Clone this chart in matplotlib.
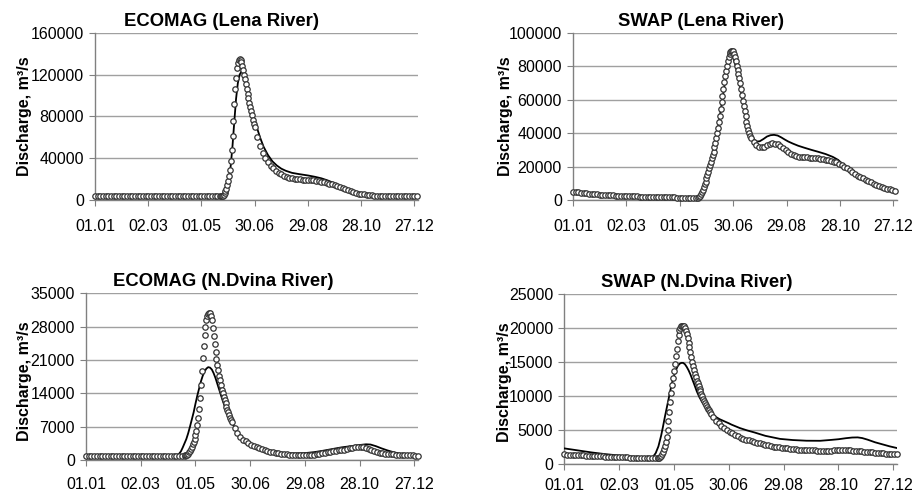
import numpy as np
import matplotlib
matplotlib.use('Agg')
import matplotlib.pyplot as plt

plt.rcParams['font.family'] = 'Liberation Sans'

tick_days = [0, 60, 120, 180, 240, 300, 360]
tick_labels = ['01.01', '02.03', '01.05', '30.06', '29.08', '28.10', '27.12']
ylabel = 'Discharge, m\u00b3/s'

# ---- ECOMAG (Lena River) ----
lena_ecomag_obs_days = np.r_[0:142:3, 142:181, 183:364:3]
lena_ecomag_obs = [
    3500, 3500, 3500, 3500, 3500, 3500, 3500, 3500, 3500, 3500, 3500, 3500,
    3500, 3500, 3500, 3500, 3500, 3500, 3500, 3500, 3500, 3500, 3500, 3500,
    3500, 3500, 3500, 3500, 3500, 3500, 3500, 3500, 3500, 3500, 3500, 3500,
    3500, 3500, 3500, 3500, 3500, 3500, 3500, 3500, 3500, 3500, 3500, 3500,
    3500, 3600, 3900, 5000, 6500, 8500, 11000, 14000, 18000, 23000,
    29000, 37000, 48000, 61000, 76000, 92000, 106000, 117000, 126000, 131500,
    134500, 135500, 134500, 132000, 128500, 124500, 120000, 115500, 111000, 106500,
    102000, 97500, 93000, 89000, 85000, 81000, 77000, 73000, 69500,
    60000, 52000, 45500, 40500, 36500, 33000, 30500, 28000, 26000, 24500,
    23300, 22300, 21500, 20800, 20300, 20000, 19700, 19500, 19300, 19100,
    18900, 18700, 18400, 18000, 17500, 17000, 16400, 15700, 14900, 14000,
    13100, 12100, 11100, 10100, 9200, 8300, 7500, 6800, 6200, 5700,
    5300, 5000, 4700, 4500, 4300, 4100, 4000, 3900, 3800, 3700,
    3700, 3600, 3600, 3600, 3500, 3500, 3500, 3500, 3500, 3500, 3500]
lena_ecomag_sim_days = [0, 143, 145, 147, 149, 151, 153, 155, 157, 159, 161, 163, 165,
                        167, 169, 171, 174, 177, 180, 183, 186, 190, 195, 200, 205,
                        210, 215, 222, 230, 240, 248, 255, 262, 270, 278, 285, 292,
                        300, 308, 318, 330, 345, 364]
lena_ecomag_sim = [3500, 3500, 4500, 7500, 12000, 20000, 33000, 52000, 75000, 97000,
                   112000, 120000, 123000, 121000, 116000, 109000, 98000, 87000, 77000,
                   68000, 60000, 51000, 43000, 37000, 33000, 30000, 28000, 26000, 24800,
                   23500, 22200, 20800, 18800, 16000, 13000, 10500, 8000, 6000, 4900,
                   4200, 3800, 3600, 3500]

# ---- SWAP (Lena River) ----
lena_swap_obs_days = np.r_[0:142:3, 142:201, 203:363:3]
lena_swap_obs = [
    5000, 4800, 4600, 4400, 4200, 4000, 3800, 3650, 3500, 3350,
    3200, 3100, 3000, 2900, 2800, 2700, 2600, 2500, 2450, 2400,
    2300, 2250, 2200, 2150, 2100, 2050, 2000, 1950, 1900, 1850,
    1800, 1750, 1700, 1650, 1600, 1600, 1550, 1500, 1500, 1450,
    1400, 1400, 1350, 1300, 1300, 1250, 1200, 1300,
    1600, 2300, 3300, 4600, 6000, 7600, 9300, 11000, 13000, 15000,
    17000, 19000, 21000, 23000, 25000, 27000, 29000, 31500, 34000, 37000,
    40000, 43000, 46500, 50500, 54500, 58500, 62500, 66500, 70500, 74000,
    77500, 80500, 83000, 85500, 87200, 88500, 89300, 89500, 89000, 87500,
    85500, 83000, 80500, 78000, 75500, 73000, 70000, 66500, 63000, 59500,
    56000, 53000, 50000, 47000, 44500, 42000, 40000, 38500, 37000,
    34500, 32800, 31800, 31500, 32000, 33000, 33800, 34000, 33800, 33300,
    32500, 31300, 30000, 28800, 27800, 27000, 26400, 26000, 25800, 25600,
    25500, 25400, 25200, 25100, 25000, 24800, 24500, 24200, 23900, 23500,
    23000, 22500, 21800, 21000, 20000, 19000, 17800, 16500, 15500, 14600,
    13800, 13000, 12200, 11400, 10600, 9800, 9000, 8400, 7800, 7200,
    6700, 6300, 5900, 5500]
lena_swap_sim_days = [0, 30, 60, 90, 120, 140, 142, 145, 149, 153, 157, 160, 163, 166,
                      169, 172, 174, 176, 177, 178, 180, 183, 186, 189, 192, 195, 198,
                      201, 204, 207, 210, 214, 218, 222, 226, 230, 234, 238, 242, 247,
                      253, 260, 268, 276, 284, 292, 298, 302, 305, 311, 320, 330, 340,
                      350, 358, 364]
lena_swap_sim = [5000, 3200, 2300, 1800, 1400, 1250, 1600, 4500, 10500, 18500, 27000,
                 34000, 43000, 53500, 64000, 75000, 81500, 86000, 87500, 87000, 85500,
                 80000, 73000, 64500, 56000, 48500, 42500, 38500, 36000, 35000, 35200,
                 36500, 38000, 38800, 39000, 38600, 37500, 36200, 35000, 33800, 32500,
                 31300, 30000, 28800, 27500, 25800, 24000, 22000, 20500, 17800, 14600,
                 12000, 9300, 7200, 6100, 5400]

# ---- ECOMAG (N.Dvina River) ----
dvina_ecomag_obs_days = np.r_[0:109:3, 109:161, 163:365:3]
dvina_ecomag_obs = [
    900, 900, 900, 900, 900, 900, 900, 900, 900, 900, 900, 900, 900,
    900, 900, 900, 900, 900, 900, 900, 900, 900, 900, 900, 900, 900,
    900, 900, 900, 900, 900, 900, 900, 900, 900, 900, 900,
    950, 1000, 1150, 1350, 1600, 1950, 2350, 2800, 3300, 3850,
    4500, 5200, 6100, 7300, 8800, 10800, 13000, 15800, 18600, 21500,
    24000, 26200, 28000, 29300, 30200, 30700, 30900, 30800, 30300, 29300,
    27800, 26000, 24300, 22700, 21300, 20000, 18800, 17700, 16700, 15700,
    14800, 14000, 13300, 12600, 11900, 11200, 10600, 10000, 9400, 8900,
    8400, 7900,
    6700, 5700, 4900, 4300, 3900, 3600, 3250, 2950, 2700, 2450,
    2250, 2050, 1900, 1750, 1600, 1500, 1400, 1300, 1250, 1200,
    1150, 1100, 1100, 1050, 1050, 1050, 1050, 1050, 1100, 1150,
    1200, 1300, 1400, 1500, 1600, 1700, 1800, 1900, 2000, 2100,
    2200, 2350, 2450, 2550, 2650, 2750, 2800, 2650, 2450, 2250,
    2050, 1850, 1700, 1550, 1450, 1350, 1300, 1250, 1200, 1150,
    1100, 1050, 1000, 1000, 950, 950, 900, 900]
dvina_ecomag_sim_days = [0, 98, 100, 102, 104, 106, 108, 110, 112, 114, 116, 118, 120,
                         122, 124, 126, 128, 130, 132, 134, 136, 138, 140, 142, 144,
                         146, 148, 150, 153, 156, 160, 165, 170, 175, 180, 185, 190,
                         200, 210, 220, 230, 240, 250, 260, 270, 280, 290, 300, 307,
                         312, 318, 324, 330, 337, 344, 352, 364]
dvina_ecomag_sim = [900, 900, 1000, 1300, 1800, 2600, 3500, 4400, 5600, 7000, 8500,
                    10000, 11800, 13500, 15000, 16500, 17700, 18600, 19200, 19500,
                    19400, 19000, 18200, 17200, 16000, 14800, 13600, 12400, 10800,
                    9300, 7800, 6200, 5000, 4100, 3500, 3000, 2650, 2100, 1700, 1450,
                    1400, 1450, 1650, 1950, 2300, 2650, 2900, 3150, 3300, 3250, 2900,
                    2450, 2050, 1650, 1350, 1150, 1050]

# ---- SWAP (N.Dvina River) ----
dvina_swap_obs_days = np.r_[0:103:3, 103:161, 163:365:3]
dvina_swap_obs = [
    1400, 1380, 1360, 1340, 1320, 1300, 1280, 1260, 1240, 1220,
    1200, 1180, 1160, 1140, 1120, 1100, 1080, 1060, 1040, 1020,
    1000, 990, 980, 960, 940, 920, 900, 890, 880, 860,
    850, 840, 830, 820, 830,
    850, 900, 1000, 1200, 1450, 1800, 2200, 2700, 3300, 4000,
    5000, 6300, 7700, 9100, 10400, 11600, 12700, 13700, 14800, 15900,
    17000, 18100, 19000, 19700, 20100, 20300, 20400, 20400, 20300, 20000,
    19600, 19100, 18500, 17900, 17200, 16500, 15800, 15100, 14500, 13900,
    13300, 12800, 12300, 11900, 11500, 11100, 10700, 10300, 10000, 9600,
    9300, 9000, 8700, 8400, 8100, 7900, 7600, 7400,
    6900, 6400, 6000, 5600, 5300, 5000, 4700, 4500, 4300, 4100,
    3900, 3750, 3600, 3500, 3350, 3250, 3150, 3050, 2950, 2850,
    2750, 2650, 2550, 2500, 2450, 2400, 2350, 2300, 2250, 2200,
    2150, 2100, 2100, 2050, 2050, 2000, 2000, 2000, 1950, 1950,
    1950, 1950, 1950, 1950, 2000, 2000, 2050, 2050, 2050, 2050,
    2000, 1950, 1900, 1850, 1850, 1800, 1750, 1700, 1700, 1650,
    1650, 1600, 1550, 1500, 1500, 1450, 1450, 1400]
dvina_swap_sim_days = [0, 15, 30, 45, 60, 75, 90, 94, 97, 100, 103, 106, 108, 110, 112,
                       114, 116, 118, 120, 122, 124, 126, 128, 130, 132, 134, 136, 138,
                       140, 142, 145, 148, 151, 155, 160, 165, 170, 175, 180, 183, 192,
                       200, 208, 220, 236, 250, 265, 280, 292, 300, 308, 315, 321, 326,
                       332, 340, 348, 356, 364]
dvina_swap_sim = [2300, 2000, 1700, 1450, 1250, 1100, 950, 930, 1050, 1600, 2600, 4200,
                  5500, 6900, 8200, 9500, 10800, 12000, 13000, 13800, 14400, 14750,
                  14900, 14900, 14700, 14300, 13800, 13200, 12500, 11800, 10700, 9800,
                  9100, 8400, 7600, 7000, 6600, 6300, 6000, 5800, 5300, 4950, 4650,
                  4150, 3700, 3530, 3430, 3420, 3550, 3650, 3800, 3900, 3920, 3820,
                  3580, 3200, 2900, 2600, 2350]

fig = plt.figure(figsize=(9.15, 4.97), dpi=100)

panels = [
    ('ECOMAG (Lena River)', [0.1038, 0.5976, 0.353, 0.336], 160000, 40000,
     lena_ecomag_obs_days, lena_ecomag_obs, lena_ecomag_sim_days, lena_ecomag_sim,
     0.392, -0.195, 0.5, 10),
    ('SWAP (Lena River)', [0.6262, 0.5976, 0.354, 0.336], 100000, 20000,
     lena_swap_obs_days, lena_swap_obs, lena_swap_sim_days, lena_swap_sim,
     0.394, -0.185, 0.5, 10),
    ('ECOMAG (N.Dvina River)', [0.094, 0.0744, 0.3628, 0.3354], 35000, 7000,
     dvina_ecomag_obs_days, dvina_ecomag_obs, dvina_ecomag_sim_days, dvina_ecomag_sim,
     0.413, -0.164, 0.47, 8),
    ('SWAP (N.Dvina River)', [0.6167, 0.0664, 0.3636, 0.3414], 25000, 5000,
     dvina_swap_obs_days, dvina_swap_obs, dvina_swap_sim_days, dvina_swap_sim,
     0.398, -0.158, 0.48, 6),
]

for (title, rect, ymax, ystep, od, ov, sd, sv, tx, lx, ly, xpad) in panels:
    ax = fig.add_axes(rect)
    ax.plot(sd, sv, color='black', lw=1.3, zorder=3)
    ax.plot(od, ov, ls='none', marker='o', ms=3.9, mfc='white', mec='#333333',
            mew=0.9, clip_on=False, zorder=4)
    ax.set_xlim(0, 364)
    ax.set_ylim(0, ymax)
    ax.set_xticks(tick_days)
    ax.set_xticklabels(tick_labels)
    ax.set_yticks(np.arange(0, ymax + 1, ystep))
    ax.yaxis.grid(True, color='#a0a0a0', lw=1.0)
    ax.set_axisbelow(True)
    for s in ['top', 'right']:
        ax.spines[s].set_visible(False)
    for s in ['left', 'bottom']:
        ax.spines[s].set_color('#808080')
        ax.spines[s].set_linewidth(1.0)
    ax.tick_params(axis='y', direction='out', length=4, color='#808080', pad=4,
                   labelsize=11.5)
    ax.tick_params(axis='x', direction='out', length=4, color='#808080', pad=xpad,
                   labelsize=11.5)
    ax.set_title(title, x=tx, fontsize=13.3, fontweight='bold', pad=5)
    ax.set_ylabel(ylabel, fontsize=11.5, fontweight='bold')
    ax.yaxis.set_label_coords(lx, ly)

plt.savefig('out.png', dpi=100)
